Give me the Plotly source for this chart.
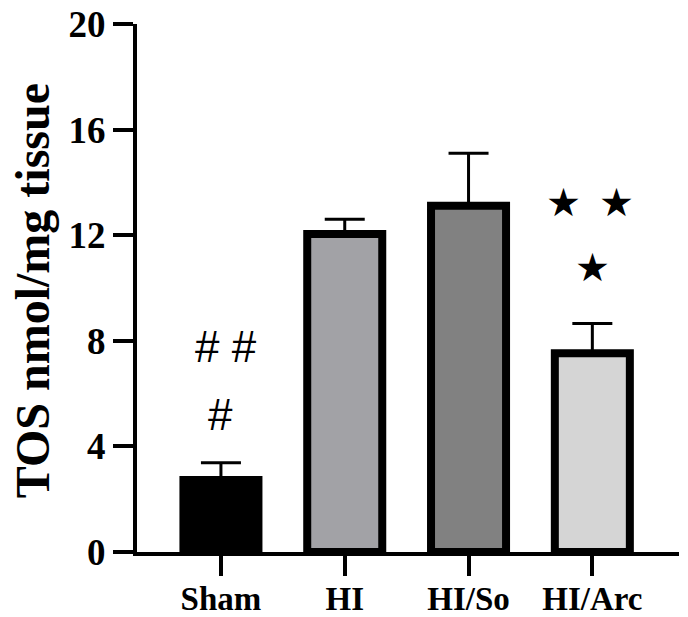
import plotly.graph_objects as go

categories = ["Sham", "HI", "HI/So", "HI/Arc"]
means = [2.73, 12.05, 13.12, 7.53]
err_plus = [0.65, 0.55, 1.98, 1.13]
fill_colors = ["#000000", "#a2a2a6", "#818181", "#d5d5d5"]
y_ticks = [0, 4, 8, 12, 16, 20]

SERIF = "Liberation Serif"

fig = go.Figure()
fig.add_trace(go.Bar(
    x=categories, y=means,
    width=0.606,
    marker=dict(color=fill_colors, line=dict(color="black", width=8)),
    error_y=dict(type="data", symmetric=False, array=err_plus,
                 arrayminus=[0] * len(means), color="black",
                 thickness=3, width=20),
))

# significance marks (text, positioned relative to category / value axis)
marks = [
    dict(x=0, y=7.80, text="# #", xshift=5, font="Liberation Sans", size=44),
    dict(x=0, y=5.19, text="#", xshift=0, font="Liberation Sans", size=44),
    dict(x=3, y=13.22, text="★", xshift=-29, font="DejaVu Sans", size=39),
    dict(x=3, y=13.22, text="★", xshift=24, font="DejaVu Sans", size=39),
    dict(x=3, y=10.76, text="★", xshift=0, font="DejaVu Sans", size=39),
]
for m in marks:
    fig.add_annotation(x=m["x"], y=m["y"], text=m["text"], showarrow=False,
                       xshift=m["xshift"],
                       font=dict(family=m["font"], size=m["size"], color="black"))

# y-axis title as rotated annotation
fig.add_annotation(xref="paper", yref="paper", x=0, y=0.494,
                   xanchor="center", yanchor="middle", xshift=-105,
                   text="TOS nmol/mg tissue", textangle=-90, showarrow=False,
                   font=dict(family=SERIF, size=48, color="black", weight="bold"))

fig.update_layout(
    width=688, height=617,
    margin=dict(l=137, r=9, t=24, b=65),
    plot_bgcolor="white", paper_bgcolor="white",
    showlegend=False,
)
fig.update_xaxes(
    type="category", range=[-0.678, 3.70], automargin=False,
    showline=True, linecolor="black", linewidth=4,
    ticks="outside", ticklen=20, tickwidth=4, tickcolor="black",
    ticklabelstandoff=-6,
    tickfont=dict(family=SERIF, size=33, color="black", weight="bold"),
    showgrid=False, zeroline=False,
)
fig.update_yaxes(
    range=[0, 20], tickvals=y_ticks, automargin=False,
    showline=True, linecolor="black", linewidth=4,
    ticks="outside", ticklen=20, tickwidth=4, tickcolor="black",
    tickfont=dict(family=SERIF, size=37, color="black", weight="bold"),
    showgrid=False, zeroline=False,
)

fig.write_html("out.html")
